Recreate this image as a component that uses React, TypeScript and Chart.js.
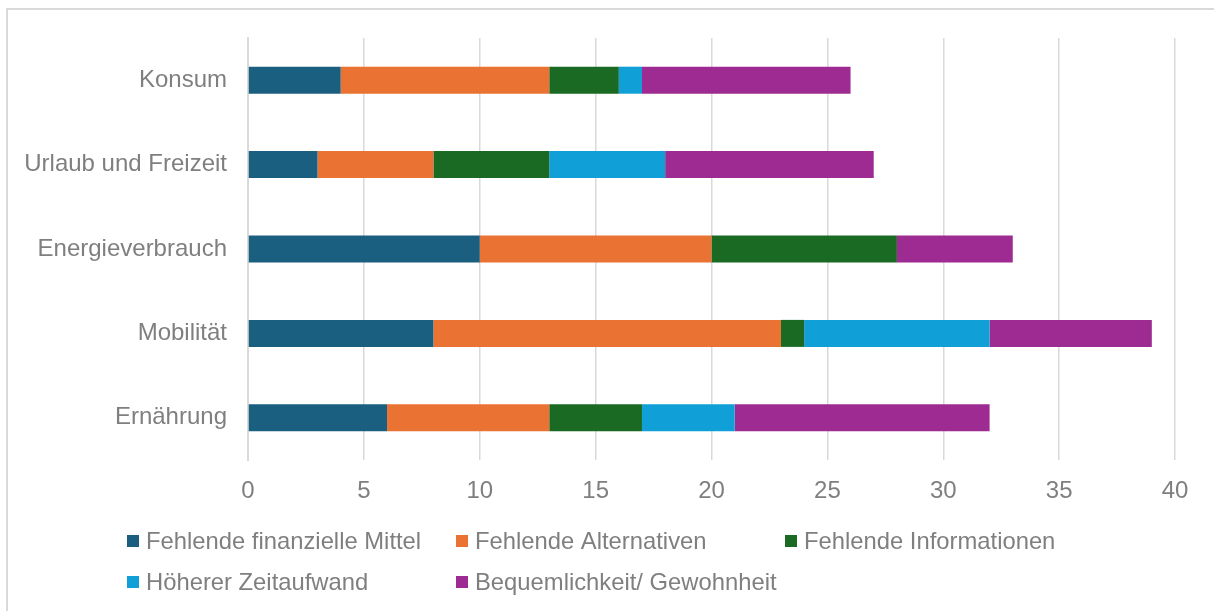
import React, { useEffect, useRef } from "react";
import { Chart, registerables } from "chart.js";

Chart.register(...registerables);

const categories = ["Konsum", "Urlaub und Freizeit", "Energieverbrauch", "Mobilität", "Ernährung"];
const seriesNames = [
  "Fehlende finanzielle Mittel",
  "Fehlende Alternativen",
  "Fehlende Informationen",
  "Höherer Zeitaufwand",
  "Bequemlichkeit/ Gewohnheit",
];
const finanzielleMittel = [4, 3, 10, 8, 6];
const alternativen = [9, 5, 10, 15, 7];
const informationen = [3, 5, 8, 1, 4];
const zeitaufwand = [1, 5, 0, 8, 4];
const gewohnheit = [9, 9, 5, 7, 11];
const seriesColors = ["#1a5f80", "#ea7233", "#1b6a24", "#109fd6", "#9e2b92"];
const xTickMin = 0;
const xTickMax = 40;
const xTickStep = 5;

const FONT = "'Liberation Sans', Arial, sans-serif";
const TEXT = "#7f7f7f";
const GRID = "#d9d9d9";

const legendPlugin = {
  id: "gridLegend",
  afterDraw(chart: any) {
    const ctx = chart.ctx;
    const ds = chart.data.datasets;
    const left = 127;
    const colW = 329;
    const rowY = [541, 582];
    ctx.save();
    ctx.font = `23.8px ${FONT}`;
    ctx.textBaseline = "middle";
    ctx.textAlign = "left";
    ds.forEach((d: any, i: number) => {
      const col = i % 3;
      const row = Math.floor(i / 3);
      const x = left + col * colW;
      const y = rowY[row];
      ctx.fillStyle = d.backgroundColor;
      ctx.fillRect(x, y - 6, 12, 12);
      ctx.fillStyle = TEXT;
      ctx.fillText(d.label, x + 19, y + 1);
    });
    ctx.restore();
  },
};

export default function App() {
  const ref = useRef<HTMLCanvasElement | null>(null);
  useEffect(() => {
    if (!ref.current) return;
    const values = [finanzielleMittel, alternativen, informationen, zeitaufwand, gewohnheit];
    const chart = new Chart(ref.current, {
      type: "bar",
      data: {
        labels: categories,
        datasets: seriesNames.map((name, i) => ({
          label: name,
          data: values[i],
          backgroundColor: seriesColors[i],
          borderWidth: 0,
          barPercentage: 0.32,
          categoryPercentage: 1,
        })),
      },
      options: {
        indexAxis: "y",
        animation: false,
        responsive: false,
        maintainAspectRatio: false,
        layout: { padding: { top: 38, right: 39, bottom: 107, left: 10 } },
        plugins: {
          legend: { display: false },
          tooltip: { enabled: false },
        },
        scales: {
          x: {
            stacked: true,
            min: xTickMin,
            max: xTickMax,
            ticks: {
              stepSize: xTickStep,
              color: TEXT,
              font: { family: FONT, size: 24 },
              padding: 17,
            },
            grid: { color: GRID, lineWidth: 1.5, drawTicks: false },
            border: { display: false },
            afterFit: (s: any) => {
              s.height = 44;
            },
          },
          y: {
            stacked: true,
            ticks: {
              color: TEXT,
              font: { family: FONT, size: 24 },
              padding: 21,
            },
            grid: { display: false, drawTicks: false },
            border: { display: true, color: GRID, width: 2 },
            afterFit: (s: any) => {
              s.width = 238;
            },
          },
        },
      },
      plugins: [legendPlugin],
    } as any);
    return () => chart.destroy();
  }, []);

  return (
    <div style={{ position: "fixed", left: 0, top: 0, width: 1214, height: 611, overflow: "hidden", background: "#fff" }}>
      <div
        style={{
          position: "absolute",
          left: 6,
          top: 8,
          width: 1240,
          height: 640,
          border: "2px solid #d9d9d9",
          boxSizing: "border-box",
        }}
      />
      <canvas ref={ref} width={1214} height={611} style={{ position: "absolute", left: 0, top: 0 }} />
    </div>
  );
}
